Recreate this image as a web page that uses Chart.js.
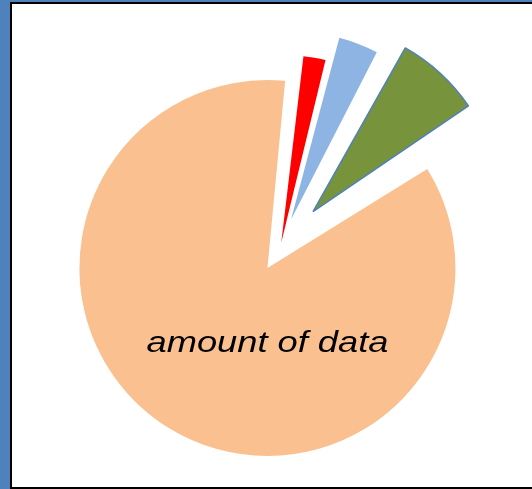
<!DOCTYPE html>
<html>
<head>
<meta charset="utf-8">
<script src="https://cdn.jsdelivr.net/npm/chart.js@4"></script>
<style>
  html, body { margin: 0; padding: 0; }
  body { width: 532px; height: 489px; overflow: hidden; background: #4f81bd; position: relative; }
  .frame { position: absolute; left: 10px; top: 2px; width: 540px; height: 483px; border: 2px solid #000; background: #fff; }
  #pie { position: absolute; left: 0; top: 0; }
</style>
</head>
<body>
<div class="frame"></div>
<canvas id="pie" width="532" height="489"></canvas>
<script>
const labels = ["amount of data", "slice 2", "slice 3", "slice 4"];
const values = [86, 2, 4, 8];
const colors = ["#fac090", "#ff0000", "#8db4e2", "#77933c"];

const RADIUS = 188;

// keep every slice at the same drawn radius, also the pulled-out ones
const evenRadius = {
  id: "evenRadius",
  afterDatasetUpdate(chart, args) {
    args.meta.data.forEach(arc => {
      const shift = (arc.options.offset || 0) / 4;
      const fix = 1 - Math.sin(Math.min(Math.PI, arc.circumference));
      arc.outerRadius = RADIUS - shift * fix;
    });
  }
};

// category name written inside the big slice
const sliceLabel = {
  id: "sliceLabel",
  afterDatasetsDraw(chart) {
    const arc = chart.getDatasetMeta(0).data[0];
    const shift = (arc.options.offset || 0) / 4;
    const mid = (arc.startAngle + arc.endAngle) / 2;
    const x = arc.x + Math.cos(mid) * shift;
    const y = arc.y + Math.sin(mid) * shift + RADIUS * 0.447;
    const ctx = chart.ctx;
    ctx.save();
    ctx.translate(x, y);
    ctx.scale(1.25, 1);
    ctx.font = "italic 29px 'Liberation Sans', Arial, sans-serif";
    ctx.fillStyle = "#000";
    ctx.textAlign = "center";
    ctx.fillText(labels[0], 0, 0);
    ctx.restore();
  }
};

const ctx = document.getElementById("pie");

new Chart(ctx, {
  type: "pie",
  data: {
    labels: labels,
    datasets: [
      {
        data: values,
        backgroundColor: colors,
        borderColor: "#4f81bd",
        borderWidth: [0, 0, 0, 1.5],
        offset: [99, 17, 118, 192],
      },
    ],
  },
  options: {
    responsive: false,
    animation: false,
    rotation: 57,
    radius: RADIUS,
    layout: {
      padding: { left: 30, right: 1, top: 6, bottom: 1 },
    },
    plugins: {
      legend: { display: false },
      tooltip: { enabled: false },
    },
  },
  plugins: [evenRadius, sliceLabel],
});
</script>
</body>
</html>
